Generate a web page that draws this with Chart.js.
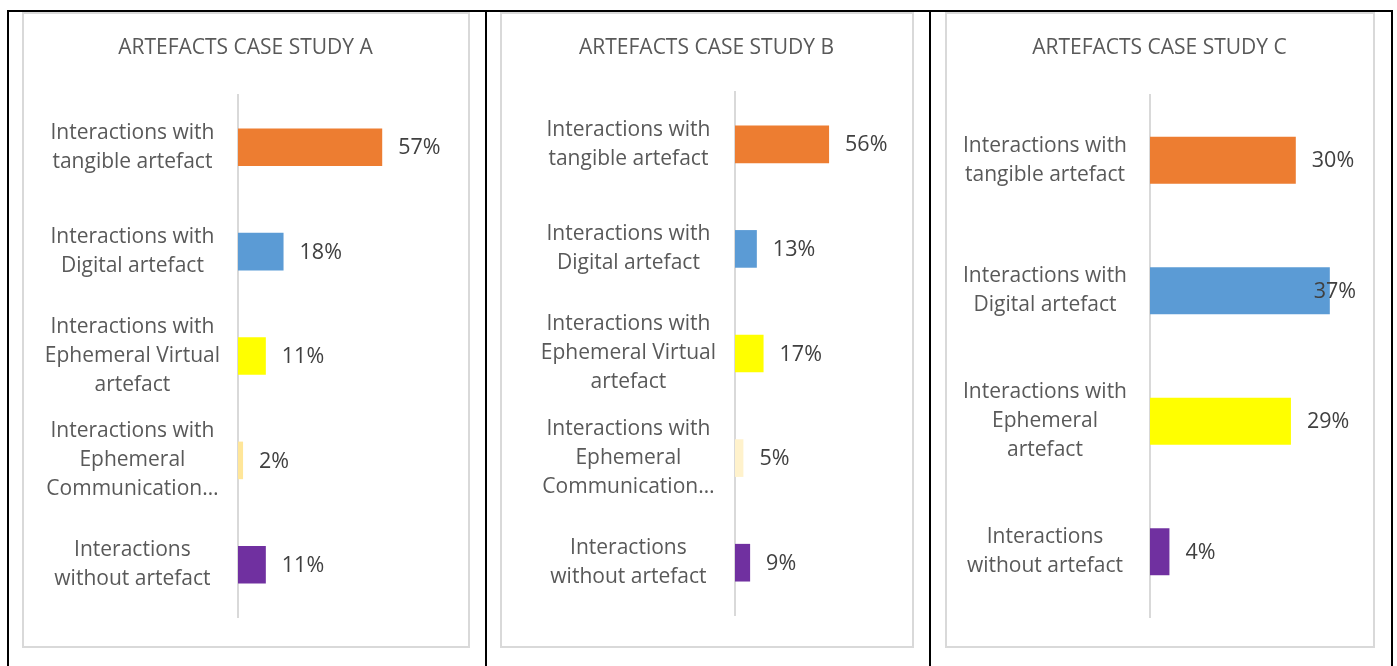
<!DOCTYPE html>
<html>
<head>
<meta charset="utf-8">
<script src="https://cdn.jsdelivr.net/npm/chart.js@4.4.1/dist/chart.umd.min.js"></script>
<style>
  body { margin: 0; background: #fff; width: 1397px; height: 666px; overflow: hidden; position: relative; }
  .line { position: absolute; background: #000; }
  .box { position: absolute; border: 2px solid #d9d9d9; box-sizing: border-box; background: #fff; }
  canvas { position: absolute; }
</style>
</head>
<body>
<!-- table borders -->
<div class="line" style="left:7px;top:10px;width:1386px;height:2px"></div>
<div class="line" style="left:7px;top:10px;width:2px;height:656px"></div>
<div class="line" style="left:485px;top:10px;width:2px;height:656px"></div>
<div class="line" style="left:929px;top:10px;width:2px;height:656px"></div>
<div class="line" style="left:1391px;top:10px;width:2px;height:656px"></div>

<!-- chart frames -->
<div class="box" style="left:22px;top:12px;width:448px;height:636px"></div>
<div class="box" style="left:500px;top:12px;width:414px;height:636px"></div>
<div class="box" style="left:945px;top:12px;width:430px;height:636px"></div>

<canvas id="chartA" style="left:24px;top:14px" width="443" height="631"></canvas>
<canvas id="chartB" style="left:502px;top:14px" width="409" height="631"></canvas>
<canvas id="chartC" style="left:947px;top:14px" width="425" height="631"></canvas>

<script>
// categories (top to bottom)
const categoriesAB = [
    ['Interactions with', 'tangible artefact'],
    ['Interactions with', 'Digital artefact'],
    ['Interactions with', 'Ephemeral Virtual', 'artefact'],
    ['Interactions with', 'Ephemeral', 'Communication…'],
    ['Interactions', 'without artefact']
];
const categoriesC = [
    ['Interactions with', 'tangible artefact'],
    ['Interactions with', 'Digital artefact'],
    ['Interactions with', 'Ephemeral', 'artefact'],
    ['Interactions', 'without artefact']
];

// shares per case study
const valuesA = [0.57, 0.18, 0.11, 0.02, 0.11];
const valuesB = [0.56, 0.13, 0.17, 0.05, 0.09];
const valuesC = [0.30, 0.37, 0.29, 0.04];

// bar colours
const colorsA = ['#ED7D31', '#5B9BD5', '#FFFF00', '#FFE699', '#7030A0'];
const colorsB = ['#ED7D31', '#5B9BD5', '#FFFF00', '#FFF2CC', '#7030A0'];
const colorsC = ['#ED7D31', '#5B9BD5', '#FFFF00', '#7030A0'];

const FONT = "'Open Sans', 'Noto Sans', sans-serif";
const CANVAS_TOP = 14;

// draws the % value right of each bar
const valueLabels = {
    id: 'valueLabels',
    afterDatasetsDraw(chart) {
        const ctx = chart.ctx;
        const meta = chart.getDatasetMeta(0);
        const data = chart.data.datasets[0].data;
        ctx.save();
        ctx.font = '21.5px ' + FONT;
        ctx.fillStyle = '#404040';
        ctx.textBaseline = 'middle';
        ctx.textAlign = 'left';
        meta.data.forEach((bar, i) => {
            const txt = Math.round(data[i] * 100) + '%';
            const w = ctx.measureText(txt).width;
            let x = bar.x + 16;
            const limit = chart.width - 16;
            if (x + w > limit) x = limit - w;
            ctx.fillText(txt, x, bar.y + 1);
        });
        ctx.restore();
    }
};

function makeChart(id, title, labels, values, colors, geo) {
    const canvas = document.getElementById(id);
    const left = parseFloat(canvas.style.left);
    const axisW = geo.axisX - left;
    // plot area runs to the canvas edge so the title stays centred
    const xMax = (left + canvas.width - geo.axisX) / geo.pxPerUnit;
    const titleTop = 22;
    const titleBottom = (geo.top - CANVAS_TOP) - titleTop - 25;

    return new Chart(canvas.getContext('2d'), {
        type: 'bar',
        data: {
            labels: labels,
            datasets: [{
                data: values,
                backgroundColor: colors,
                borderWidth: 0,
                barPercentage: 0.36,
                categoryPercentage: 1
            }]
        },
        options: {
            indexAxis: 'y',
            responsive: false,
            animation: false,
            layout: {
                padding: {
                    left: 0,
                    top: 0,
                    right: 0,
                    bottom: (CANVAS_TOP + canvas.height) - geo.bottom
                }
            },
            plugins: {
                legend: { display: false },
                tooltip: { enabled: false },
                title: {
                    display: true,
                    text: title,
                    color: '#595959',
                    font: { family: FONT, size: 21, weight: 'normal', lineHeight: '25px' },
                    padding: { top: titleTop, bottom: titleBottom }
                }
            },
            scales: {
                x: {
                    display: false,
                    min: 0,
                    max: xMax
                },
                y: {
                    grid: { display: false, drawTicks: false },
                    border: { display: true, color: '#d9d9d9', width: 2 },
                    ticks: {
                        color: '#595959',
                        font: { family: FONT, size: 21, lineHeight: '29px' },
                        crossAlign: 'center',
                        padding: geo.labelPad,
                        autoSkip: false
                    },
                    afterFit(scale) {
                        scale.width = axisW;
                        scale.paddingTop = 0;
                        scale.paddingBottom = 0;
                    }
                }
            }
        },
        plugins: [valueLabels]
    });
}

makeChart('chartA', 'ARTEFACTS CASE STUDY A', categoriesAB, valuesA, colorsA,
    { axisX: 238, top: 95, bottom: 617, pxPerUnit: 253, labelPad: 18 });
makeChart('chartB', 'ARTEFACTS CASE STUDY B', categoriesAB, valuesB, colorsB,
    { axisX: 735, top: 92, bottom: 615, pxPerUnit: 168, labelPad: 19 });
makeChart('chartC', 'ARTEFACTS CASE STUDY C', categoriesC, valuesC, colorsC,
    { axisX: 1150, top: 95, bottom: 617, pxPerUnit: 486, labelPad: 23 });
</script>
</body>
</html>
